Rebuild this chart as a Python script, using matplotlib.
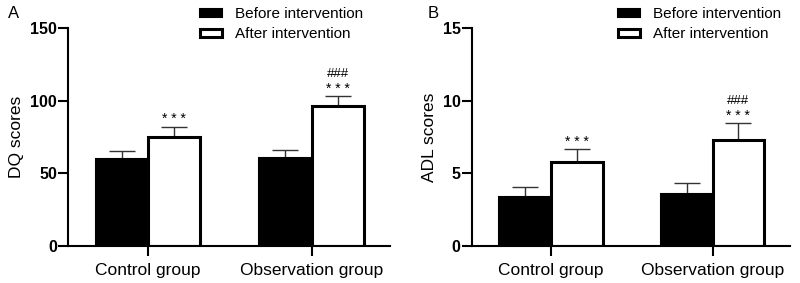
import matplotlib.pyplot as plt
import numpy as np

plt.rcParams['font.family'] = ['Liberation Sans', 'DejaVu Sans']

groups = ["Control group", "Observation group"]
series = ["Before intervention", "After intervention"]

dq_before = [60, 60.5]
dq_before_err = [5, 5.5]
dq_after = [75, 96]
dq_after_err = [7, 7]

adl_before = [3.35, 3.55]
adl_before_err = [0.7, 0.8]
adl_after = [5.75, 7.3]
adl_after_err = [0.9, 1.15]

panels = [
    ("A", "DQ scores", [0, 50, 100, 150], dq_before, dq_before_err, dq_after, dq_after_err),
    ("B", "ADL scores", [0, 5, 10, 15], adl_before, adl_before_err, adl_after, adl_after_err),
]
sig_marks = [["* * *"], ["###", "* * *"]]

fig = plt.figure(figsize=(8, 2.83), dpi=100)
axes_pos = [[0.085, 0.131, 0.4025, 0.77], [0.5896, 0.131, 0.398, 0.77]]
label_x = [0.01, 0.534]
legend_x = [0.25, 0.7725]

x = np.arange(len(groups))
w = 0.32
for i, (tag, ylab, yt, bef, bef_e, aft, aft_e) in enumerate(panels):
    ax = fig.add_axes(axes_pos[i])
    ymax = yt[-1]
    err_kw = dict(elinewidth=1, capsize=9.7, capthick=1, ecolor='#333333')
    ax.bar(x - w / 2, bef, w, color='black', edgecolor='black', linewidth=1.5,
           label=series[0], zorder=2)
    ax.errorbar(x - w / 2, bef, yerr=[np.zeros(2), bef_e], fmt='none', zorder=1, **err_kw)
    ax.bar(x + w / 2, aft, w, color='white', edgecolor='black', linewidth=2.2,
           label=series[1], zorder=2)
    ax.errorbar(x + w / 2, aft, yerr=[np.zeros(2), aft_e], fmt='none', zorder=1, **err_kw)

    for j in range(len(groups)):
        top = aft[j] + aft_e[j]
        for k, m in enumerate(reversed(sig_marks[j])):
            fs = 10 if m.startswith('*') else 9.5
            ax.annotate(m, (x[j] + w / 2, top), xytext=(0, 5.5 + 10.5 * k),
                        textcoords='offset points', ha='center', va='center',
                        fontsize=fs)

    ax.set_xlim(-0.49, 1.48)
    ax.set_ylim(0, ymax)
    ax.set_yticks(yt)
    ax.set_yticklabels([str(v) for v in yt], fontweight='bold', fontsize=11.5)
    ax.set_xticks(x)
    ax.set_xticklabels(groups, fontsize=12.5)
    ax.set_ylabel(ylab, fontsize=12.5, labelpad=4)
    for s in ['top', 'right']:
        ax.spines[s].set_visible(False)
    for s in ['left', 'bottom']:
        ax.spines[s].set_linewidth(1.5)
    ax.tick_params(axis='both', width=1.5, length=7, direction='out')
    ax.tick_params(axis='y', pad=1)
    ax.tick_params(axis='x', pad=5.5)
    ax.legend(loc='upper left', bbox_to_anchor=(legend_x[i], 0.975),
              bbox_transform=fig.transFigure, frameon=False,
              fontsize=11, handlelength=1.45, handleheight=0.45,
              handletextpad=0.85, labelspacing=0.4, borderaxespad=0, borderpad=0)
    fig.text(label_x[i], 1 - 13 / 283, tag, fontsize=12, va='center')

fig.savefig("out.png", dpi=100)
